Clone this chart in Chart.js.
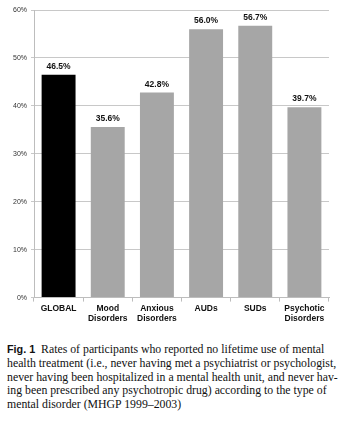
<!DOCTYPE html>
<html><head><meta charset="utf-8">
<script src="https://cdn.jsdelivr.net/npm/chart.js@4/dist/chart.umd.min.js"></script>
<style>
html,body{margin:0;padding:0;background:#fff;width:344px;height:422px;overflow:hidden}
#wrap{position:absolute;left:0;top:0;width:344px;height:330px}
#cap{position:absolute;left:7px;top:343px;width:331px;font-family:"Liberation Serif","Times New Roman",serif;font-size:11.8px;line-height:13.8px;color:#111}
#cap div{white-space:nowrap}
#cap b{font-family:"Liberation Sans",Arial,sans-serif;font-size:10.8px}
</style></head><body>
<div id="wrap"><canvas id="c"></canvas></div>
<div id="cap">
<div class="j"><b>Fig. 1</b>&nbsp; Rates of participants who reported no lifetime use of mental</div>
<div class="j">health treatment (i.e., never having met a psychiatrist or psychologist,</div>
<div class="j">never having been hospitalized in a mental health unit, and never hav-</div>
<div class="j">ing been prescribed any psychotropic drug) according to the type of</div>
<div>mental disorder (MHGP 1999–2003)</div>
</div>
<script>
// justify each caption line to the full width
document.querySelectorAll('#cap .j').forEach(d=>{
  const W = 331;
  const w = d.scrollWidth;
  const diff = W - w;
  const txt = d.textContent;
  if (diff < 0) {
    d.style.letterSpacing = (diff/txt.length - 0.01) + 'px';
    const w2 = d.scrollWidth;
    const spaces = (txt.match(/ /g)||[]).length;
    if (W - w2 > 0) d.style.wordSpacing = ((W - w2)/spaces - 0.01) + 'px';
  } else {
    const spaces = (txt.match(/[ \u00a0]/g)||[]).length;
    d.style.wordSpacing = (diff/spaces - 0.01) + 'px';
  }
});

const categories = [["GLOBAL"],["Mood","Disorders"],["Anxious","Disorders"],["AUDs"],["SUDs"],["Psychotic","Disorders"]];
const values = [46.5, 35.6, 42.8, 56.0, 56.7, 39.7];
const barColors = ["#000000","#a6a6a6","#a6a6a6","#a6a6a6","#a6a6a6","#a6a6a6"];
const yTicks = [0,10,20,30,40,50,60];

const valueLabels = {
  id:'valueLabels',
  afterDatasetsDraw(chart){
    const ctx = chart.ctx;
    const meta = chart.getDatasetMeta(0);
    ctx.save();
    ctx.font = 'bold 8.5px "Liberation Sans", Arial, sans-serif';
    ctx.fillStyle = '#111';
    ctx.textAlign = 'center';
    ctx.textBaseline = 'bottom';
    meta.data.forEach((bar,i)=>{
      ctx.fillText(values[i].toFixed(1)+'%', bar.x, bar.y - 4);
    });
    ctx.restore();
  }
};

new Chart(document.getElementById('c'),{
  type:'bar',
  data:{labels:categories,datasets:[{data:values,backgroundColor:barColors,barPercentage:0.69,categoryPercentage:1}]},
  options:{
    responsive:true,maintainAspectRatio:false,animation:false,
    layout:{padding:{top:10,right:15,left:0,bottom:4}},
    plugins:{legend:{display:false},tooltip:{enabled:false}},
    scales:{
      y:{min:0,max:60,
        afterBuildTicks(axis){axis.ticks = yTicks.map(v=>({value:v}));},
        afterFit(axis){axis.width = 34;},
        ticks:{callback:v=>v+'%',font:{size:7,family:'"Liberation Sans", Arial, sans-serif'},color:'#333',padding:4},
        grid:{color:'#c8c8c8',lineWidth:1,tickLength:3,drawTicks:true},
        border:{color:'#bdbdbd'}
      },
      x:{
        ticks:{font:{size:8.5,weight:'bold',family:'"Liberation Sans", Arial, sans-serif'},color:'#111',padding:2,maxRotation:0,autoSkip:false},
        grid:{drawOnChartArea:false,color:'#bdbdbd',tickLength:4},
        border:{color:'#bdbdbd'}
      }
    }
  },
  plugins:[valueLabels]
});
</script>
</body></html>
